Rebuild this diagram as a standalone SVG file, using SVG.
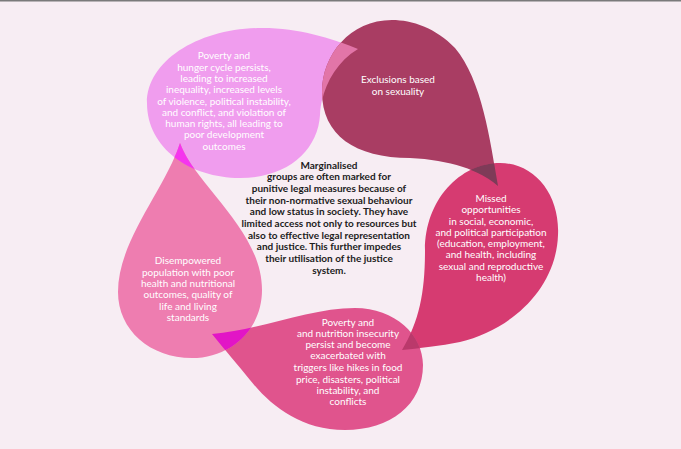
<svg xmlns="http://www.w3.org/2000/svg" xmlns:xlink="http://www.w3.org/1999/xlink" width="681" height="449" viewBox="0 0 681 449">
<style>
.w{font-family:Lato,"Open Sans","Liberation Sans",sans-serif;font-size:10px;fill:#ffffff;text-anchor:middle}
.k{font-family:Lato,"Open Sans","Liberation Sans",sans-serif;font-size:10px;font-weight:bold;fill:#1c1c1c;text-anchor:middle}
</style>
<defs>
<path id="shA" d="M358,49 C330,38 300,28 262,28 C200,28 147,60 147,103 C147,148 190,178 240,178 C288,178 318,150 320,115 C321,92 333,64 358,49 Z"/>
<path id="shB" d="M498,186 C490,140 482,80 455,48 C436,28 412,20 392,20 C350,20 322,55 322,92 C322,135 355,158 410,158 C450,160 480,170 498,186 Z"/>
<path id="shC" d="M402,350 C420,320 425,290 425,250 C425,200 460,163 500,163 C535,163 560,195 558,235 C556,290 510,330 460,342 C440,346 420,348 402,350 Z"/>
<path id="shD" d="M212,334 C260,330 310,308 355,308 C395,308 423,335 423,365 C423,405 390,430 345,430 C300,430 270,405 250,380 C238,365 225,350 212,334 Z"/>
<path id="shE" d="M180,143 C195,185 262,230 262,290 C262,330 230,358 192,358 C150,358 118,330 118,292 C118,240 165,190 180,143 Z"/>
<clipPath id="cA"><use xlink:href="#shA"/></clipPath>
<clipPath id="cB"><use xlink:href="#shB"/></clipPath>
<clipPath id="cC"><use xlink:href="#shC"/></clipPath>
<clipPath id="cD"><use xlink:href="#shD"/></clipPath>
<clipPath id="cE"><use xlink:href="#shE"/></clipPath>
</defs>
<rect x="0" y="0" width="681" height="449" fill="#F7EDF3"/>
<rect x="0" y="0" width="681" height="1.5" fill="#7a7a7a"/>

<g id="node-poverty-cycle">
<use xlink:href="#shA" fill="#F09DEE"/>
</g>
<g id="node-exclusions">
<use xlink:href="#shB" fill="#A93D63"/>
</g>
<g id="node-missed">
<use xlink:href="#shC" fill="#D63B71"/>
</g>
<g id="node-insecurity">
<use xlink:href="#shD" fill="#E0548D"/>
</g>
<g id="node-disempowered">
<use xlink:href="#shE" fill="#EE7DB0"/>
</g>

<g id="connectors">
<use xlink:href="#shA" fill="#E275A8" clip-path="url(#cB)"/>
<use xlink:href="#shB" fill="#7E3B58" clip-path="url(#cC)"/>
<use xlink:href="#shC" fill="#BA396B" clip-path="url(#cD)"/>
<use xlink:href="#shD" fill="#E215C6" clip-path="url(#cE)"/>
<use xlink:href="#shE" fill="#F535EE" clip-path="url(#cA)"/>
</g>

<g id="text-poverty-cycle">
<text class="w" x="224" y="58.5">Poverty and</text>
<text class="w" x="224" y="70.5">hunger cycle persists,</text>
<text class="w" x="224" y="81.5">leading to increased</text>
<text class="w" x="224" y="92.5">inequality, increased levels</text>
<text class="w" x="224" y="104.5">of violence, political instability,</text>
<text class="w" x="224" y="115.5">and conflict, and violation of</text>
<text class="w" x="224" y="126.5">human rights, all leading to</text>
<text class="w" x="224" y="137.5">poor development</text>
<text class="w" x="224" y="149.5">outcomes</text>
</g>
<g id="text-exclusions">
<text class="w" x="398" y="82.5">Exclusions based</text>
<text class="w" x="398" y="94.5">on sexuality</text>
</g>
<g id="text-missed">
<text class="w" x="491" y="201.5">Missed</text>
<text class="w" x="491" y="212.5">opportunities</text>
<text class="w" x="491" y="224.5">in social, economic,</text>
<text class="w" x="491" y="235.5">and political participation</text>
<text class="w" x="491" y="246.5">(education, employment,</text>
<text class="w" x="491" y="257.5">and health, including</text>
<text class="w" x="491" y="269.5">sexual and reproductive</text>
<text class="w" x="491" y="280.5">health)</text>
</g>
<g id="text-insecurity">
<text class="w" x="348" y="325.5">Poverty and</text>
<text class="w" x="348" y="336.5">and nutrition insecurity</text>
<text class="w" x="348" y="347.5">persist and become</text>
<text class="w" x="348" y="358.5">exacerbated with</text>
<text class="w" x="348" y="370.5">triggers like hikes in food</text>
<text class="w" x="348" y="382.5">price, disasters, political</text>
<text class="w" x="348" y="393.5">instability, and</text>
<text class="w" x="348" y="404.5">conflicts</text>
</g>
<g id="text-disempowered">
<text class="w" x="188" y="263.5">Disempowered</text>
<text class="w" x="188" y="275.5">population with poor</text>
<text class="w" x="188" y="286.5">health and nutritional</text>
<text class="w" x="188" y="297.5">outcomes, quality of</text>
<text class="w" x="188" y="309.5">life and living</text>
<text class="w" x="188" y="320.5">standards</text>
</g>
<g id="node-centre">
<text class="k" x="329" y="168.5">Marginalised</text>
<text class="k" x="329" y="180.2">groups are often marked for</text>
<text class="k" x="329" y="191.8">punitive legal measures because of</text>
<text class="k" x="329" y="203.5">their non-normative sexual behaviour</text>
<text class="k" x="329" y="215.2">and low status in society. They have</text>
<text class="k" x="329" y="226.8">limited access not only to resources but</text>
<text class="k" x="329" y="238.5">also to effective legal representation</text>
<text class="k" x="329" y="250.2">and justice. This further impedes</text>
<text class="k" x="329" y="261.8">their utilisation of the justice</text>
<text class="k" x="329" y="273.5">system.</text>
</g>
</svg>
